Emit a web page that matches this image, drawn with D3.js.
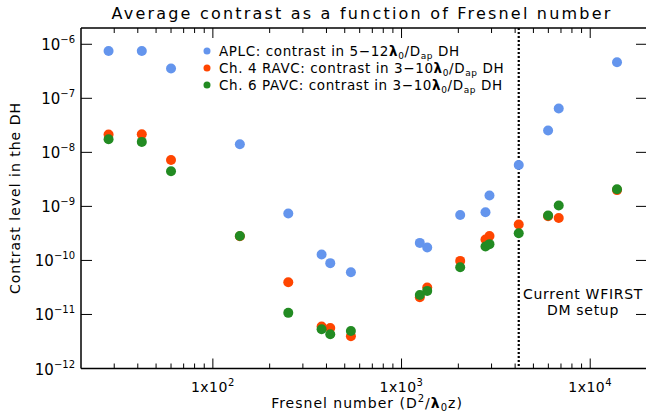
<!DOCTYPE html>
<html><head><meta charset="utf-8">
<script src="https://cdn.jsdelivr.net/npm/d3@7"></script>
<style>
body{margin:0;background:#fff;}
text{font-family:"DejaVu Sans","Liberation Sans",sans-serif;fill:#000;}
</style></head>
<body><svg id="c" width="646" height="418"></svg>
<script>
// Data
const fresnel = [28, 42, 60, 139, 251, 377, 419, 539, 1250, 1368, 2046, 2786, 2925, 4180, 5980, 6810, 13870];
const aplc =  [7.5e-7, 7.5e-7, 3.55e-7, 1.41e-8, 7.4e-10, 1.29e-10, 8.9e-11, 6.05e-11, 2.11e-10, 1.73e-10, 6.95e-10, 7.8e-10, 1.59e-9, 5.85e-9, 2.53e-8, 6.46e-8, 4.64e-7];
const ravc =  [2.13e-8, 2.16e-8, 7.2e-9, 2.8e-10, 3.95e-11, 6.0e-12, 5.6e-12, 3.96e-12, 2.08e-11, 3.15e-11, 9.8e-11, 2.44e-10, 2.84e-10, 4.61e-10, 6.6e-10, 6.11e-10, 2.0e-9];
const pavc =  [1.75e-8, 1.56e-8, 4.47e-9, 2.84e-10, 1.07e-11, 5.33e-12, 4.31e-12, 4.96e-12, 2.3e-11, 2.73e-11, 7.48e-11, 1.81e-10, 2.0e-10, 3.18e-10, 6.77e-10, 1.04e-9, 2.07e-9];
const yTickExps = [-6, -7, -8, -9, -10, -11, -12];
const xTickExps = [2, 3, 4];
const wfirstFresnel = 4180;
const seriesNames = ["APLC: contrast in 5\u221212", "Ch. 4 RAVC: contrast in 3\u221210", "Ch. 6 PAVC: contrast in 3\u221210"];
const colors = ["#6495ED", "#FF4500", "#228B22"];

const svg = d3.select("#c");
const L = 81, R = 647, T = 28, B = 368.5;
const x = d3.scaleLog().domain([20, 2e4]).range([L, R]);
const y = d3.scaleLog().domain([1e-12, 2e-6]).range([B, T]);

// frame
svg.append("line").attr("x1", L).attr("x2", R).attr("y1", B).attr("y2", B).attr("stroke", "#000").attr("stroke-width", 1.5);
svg.append("line").attr("x1", L).attr("x2", R).attr("y1", T).attr("y2", T).attr("stroke", "#000").attr("stroke-width", 1.5);
svg.append("line").attr("x1", L).attr("x2", L).attr("y1", T).attr("y2", B).attr("stroke", "#000").attr("stroke-width", 1.5);
svg.append("line").attr("x1", R).attr("x2", R).attr("y1", T).attr("y2", B).attr("stroke", "#000").attr("stroke-width", 1.5);

// x ticks (minor + major)
const xt = [];
for (let e = 1; e <= 4; e++) for (let m = 1; m <= 9; m++) { const v = m * Math.pow(10, e); if (v > 20 && v < 2e4) xt.push(v); }
xt.forEach(v => {
  const major = Math.abs(Math.log10(v) - Math.round(Math.log10(v))) < 1e-9;
  const len = major ? 10 : 5;
  svg.append("line").attr("x1", x(v)).attr("x2", x(v)).attr("y1", B).attr("y2", B - len).attr("stroke", "#000").attr("stroke-width", 1);
  svg.append("line").attr("x1", x(v)).attr("x2", x(v)).attr("y1", T).attr("y2", T + len).attr("stroke", "#000").attr("stroke-width", 1);
});
xTickExps.forEach(e => {
  const t = svg.append("text").attr("x", x(Math.pow(10, e))).attr("y", 392).attr("text-anchor", "middle").attr("font-size", 14).attr("letter-spacing", 0.5);
  t.append("tspan").text("1x10");
  t.append("tspan").attr("dy", -6).attr("font-size", 10).text(e);
});
// y ticks
yTickExps.forEach(e => {
  const v = Math.pow(10, e);
  svg.append("line").attr("x1", L).attr("x2", L + 11).attr("y1", y(v)).attr("y2", y(v)).attr("stroke", "#000").attr("stroke-width", 1);
  svg.append("line").attr("x1", R - 11).attr("x2", R).attr("y1", y(v)).attr("y2", y(v)).attr("stroke", "#000").attr("stroke-width", 1);
  const t = svg.append("text").attr("x", 75).attr("y", y(v) + 6).attr("text-anchor", "end").attr("font-size", 15);
  t.append("tspan").text("10");
  t.append("tspan").attr("dy", -7).attr("font-size", 10).text("\u2212" + (-e));
});

// dotted line
svg.append("line").attr("x1", x(wfirstFresnel)).attr("x2", x(wfirstFresnel)).attr("y1", T).attr("y2", B)
  .attr("stroke", "#000").attr("stroke-width", 2.2).attr("stroke-dasharray", "2,2");

// points
const series = [aplc, ravc, pavc];
series.forEach((s, i) => {
  svg.append("g").selectAll("circle").data(fresnel.map((f, j) => [f, s[j]])).join("circle")
    .attr("cx", d => x(d[0])).attr("cy", d => y(d[1])).attr("r", 5).attr("fill", colors[i]);
});

// legend
seriesNames.forEach((n, i) => {
  const yy = 51 + i * 17;
  svg.append("circle").attr("cx", 207).attr("cy", yy).attr("r", 3.5).attr("fill", colors[i]);
  const t = svg.append("text").attr("x", 219).attr("y", yy + 5).attr("font-size", 13.5).attr("letter-spacing", 0.6);
  t.append("tspan").text(n);
  t.append("tspan").attr("font-weight", "bold").text("\u03bb");
  t.append("tspan").attr("dy", 3).attr("font-size", 9).text("0");
  t.append("tspan").attr("dy", -3).text("/D");
  t.append("tspan").attr("dy", 3).attr("font-size", 9).text("ap");
  t.append("tspan").attr("dy", -3).text(" DH");
});

// annotation
svg.append("text").attr("x", 583).attr("y", 299).attr("text-anchor", "middle").attr("font-size", 14).attr("letter-spacing", 0.7).text("Current WFIRST");
svg.append("text").attr("x", 583).attr("y", 315).attr("text-anchor", "middle").attr("font-size", 14).attr("letter-spacing", 0.7).text("DM setup");

// title
svg.append("text").attr("x", 362).attr("y", 19).attr("text-anchor", "middle").attr("font-size", 16).attr("letter-spacing", 2.2).text("Average contrast as a function of Fresnel number");

// axis labels
const xl = svg.append("text").attr("x", 367).attr("y", 407.5).attr("text-anchor", "middle").attr("font-size", 14).attr("letter-spacing", 1);
xl.append("tspan").text("Fresnel number (D");
xl.append("tspan").attr("dy", -6).attr("font-size", 10).text("2");
xl.append("tspan").attr("dy", 6).text("/");
xl.append("tspan").attr("font-weight", "bold").text("\u03bb");
xl.append("tspan").attr("dy", 3).attr("font-size", 10).text("0");
xl.append("tspan").attr("dy", -3).text("z)");

svg.append("text").attr("transform", "translate(20,198) rotate(-90)").attr("text-anchor", "middle").attr("font-size", 14).attr("letter-spacing", 1).text("Contrast level in the DH");
</script></body></html>
